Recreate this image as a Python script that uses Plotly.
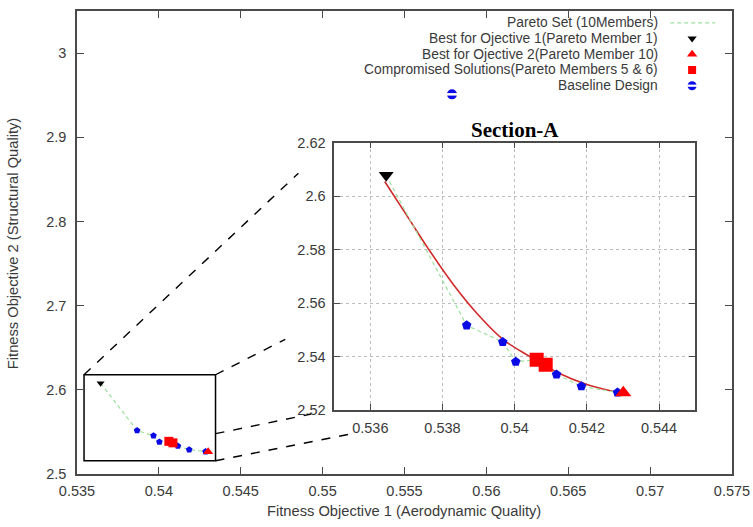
import plotly.graph_objects as go

# ---- Pareto front (10 members, ordered by objective 1) ----
pareto_x = [0.53644, 0.53867, 0.53967, 0.54003, 0.54061, 0.54086, 0.54116, 0.54185, 0.54285, 0.54301]
pareto_y = [2.6078, 2.5517, 2.5455, 2.5381, 2.5388, 2.5370, 2.5333, 2.5289, 2.5266, 2.5265]

best1_idx = [0]          # best for objective 1
best2_idx = [9]          # best for objective 2
compromise_idx = [4, 5]  # compromised solutions
other_idx = [1, 2, 3, 6, 7, 8]

# ---- fitted trade-off curve ----
fit_x = [0.5364, 0.5370, 0.5376, 0.5383, 0.5390, 0.5397, 0.5404, 0.5412, 0.5420, 0.5429]
fit_y = [2.6055, 2.5930, 2.5805, 2.5670, 2.5555, 2.5462, 2.5402, 2.5340, 2.5296, 2.5265]

# ---- baseline design ----
baseline_x = [0.5579]
baseline_y = [2.951]

# ---- axis ticks ----
main_xticks = [0.535, 0.540, 0.545, 0.550, 0.555, 0.560, 0.565, 0.570, 0.575]
main_xlabels = ["0.535", "0.54", "0.545", "0.55", "0.555", "0.56", "0.565", "0.57", "0.575"]
main_yticks = [2.5, 2.6, 2.7, 2.8, 2.9, 3.0]
main_ylabels = ["2.5", "2.6", "2.7", "2.8", "2.9", "3"]
inset_xticks = [0.536, 0.538, 0.540, 0.542, 0.544]
inset_xlabels = ["0.536", "0.538", "0.54", "0.542", "0.544"]
inset_yticks = [2.52, 2.54, 2.56, 2.58, 2.60, 2.62]
inset_ylabels = ["2.52", "2.54", "2.56", "2.58", "2.6", "2.62"]

legend_labels = [
    "Pareto Set (10Members)",
    "Best for Ojective 1(Pareto Member 1)",
    "Best for Ojective 2(Pareto Member 10)",
    "Compromised Solutions(Pareto Members 5 & 6)",
    "Baseline Design",
]

# zoom window drawn on the main axes and its guide lines
zoom_box = dict(x0=0.53543, x1=0.54346, y0=2.5158, y1=2.6179)
guide_lines = [
    (0.53543, 2.6179, 0.54852, 2.8573),
    (0.54346, 2.6179, 0.54772, 2.6600),
    (0.54346, 2.5479, 0.54930, 2.5712),
    (0.54346, 2.5158, 0.55209, 2.5490),
]

FONT = "Liberation Sans, Arial, sans-serif"
TXT = "#3a3a3a"
AX = "#4a4a4a"
GREEN = "#9ee09e"
BLUE = "#0a0ae6"
RED = "#ff0000"
CURVE = "#d02a2a"


def pick(vals, idx):
    return [vals[i] for i in idx]


fig = go.Figure()


def add_front(xa, ya, sizes):
    s_tri, s_pent, s_sq, s_tri2 = sizes
    fig.add_trace(go.Scatter(x=pareto_x, y=pareto_y, mode="lines", xaxis=xa, yaxis=ya,
                             line=dict(color=GREEN, width=1.2, dash="4px,3px"), hoverinfo="skip"))
    fig.add_trace(go.Scatter(x=pick(pareto_x, other_idx), y=pick(pareto_y, other_idx), mode="markers",
                             xaxis=xa, yaxis=ya,
                             marker=dict(symbol="pentagon", size=s_pent, color=BLUE, line=dict(width=0))))
    fig.add_trace(go.Scatter(x=pick(pareto_x, compromise_idx), y=pick(pareto_y, compromise_idx), mode="markers",
                             xaxis=xa, yaxis=ya,
                             marker=dict(symbol="square", size=s_sq, color=RED, line=dict(width=0))))
    fig.add_trace(go.Scatter(x=pick(pareto_x, best2_idx), y=pick(pareto_y, best2_idx), mode="markers",
                             xaxis=xa, yaxis=ya,
                             marker=dict(symbol="triangle-up", size=s_tri2, color=RED, line=dict(width=0))))
    fig.add_trace(go.Scatter(x=pick(pareto_x, best1_idx), y=pick(pareto_y, best1_idx), mode="markers",
                             xaxis=xa, yaxis=ya,
                             marker=dict(symbol="triangle-down", size=s_tri, color="black", line=dict(width=0))))


# main axes
add_front("x", "y", (7, 7, 9, 9))
fig.add_trace(go.Scatter(x=baseline_x, y=baseline_y, mode="markers",
                         marker=dict(symbol="circle", size=10, color=BLUE, line=dict(width=0))))
fig.add_trace(go.Scatter(x=baseline_x, y=baseline_y, mode="markers",
                         marker=dict(symbol="line-ew", size=8, line=dict(width=2.5, color="white"))))

# inset (Section-A)
fig.add_trace(go.Scatter(x=fit_x, y=fit_y, mode="lines", xaxis="x2", yaxis="y2",
                         line=dict(color=CURVE, width=1.6, shape="spline", smoothing=1.0)))
add_front("x2", "y2", (13, 10, 14, 14))

# legend samples on a transparent overlay axis (0..1 over the plot area)
L0, T0 = 77, 3
PW, PH = 657, 471


def px_x(px):
    return (px - L0) / PW


def px_y(py):
    return (T0 + PH - py) / PH


rows = [15, 31, 47, 63, 79]
sym_x = px_x(694)
fig.add_trace(go.Scatter(x=[px_x(672), px_x(717)], y=[px_y(rows[0])] * 2, mode="lines",
                         xaxis="x3", yaxis="y3", line=dict(color=GREEN, width=1.2, dash="4px,3px")))
fig.add_trace(go.Scatter(x=[sym_x], y=[px_y(rows[1])], mode="markers", xaxis="x3", yaxis="y3",
                         marker=dict(symbol="triangle-down", size=8, color="black")))
fig.add_trace(go.Scatter(x=[sym_x], y=[px_y(rows[2])], mode="markers", xaxis="x3", yaxis="y3",
                         marker=dict(symbol="triangle-up", size=9, color=RED)))
fig.add_trace(go.Scatter(x=[sym_x], y=[px_y(rows[3])], mode="markers", xaxis="x3", yaxis="y3",
                         marker=dict(symbol="square", size=8, color=RED)))
fig.add_trace(go.Scatter(x=[sym_x], y=[px_y(rows[4])], mode="markers", xaxis="x3", yaxis="y3",
                         marker=dict(symbol="circle", size=9, color=BLUE)))
fig.add_trace(go.Scatter(x=[sym_x], y=[px_y(rows[4])], mode="markers", xaxis="x3", yaxis="y3",
                         marker=dict(symbol="line-ew", size=7, line=dict(width=2.2, color="white"))))

annotations = []
for lab, r in zip(legend_labels, rows):
    annotations.append(dict(text=lab, xref="paper", yref="paper", x=px_x(662), y=px_y(r),
                            xanchor="right", yanchor="middle", showarrow=False,
                            font=dict(family=FONT, size=13.8, color=TXT)))

annotations += [
    dict(text="<b>Section-A</b>", xref="paper", yref="paper", x=px_x(516), y=px_y(124),
         xanchor="center", yanchor="middle", showarrow=False,
         font=dict(family="Liberation Serif, Times New Roman, serif", size=21, color="black")),
    dict(text="Fitness Objective 1 (Aerodynamic Quality)", xref="paper", yref="paper",
         x=px_x(405), y=px_y(512), xanchor="center", yanchor="middle", showarrow=False,
         height=16, font=dict(family=FONT, size=14.7, color=TXT)),
    dict(text="Fitness Objective 2 (Structural Quality)", xref="paper", yref="paper",
         x=px_x(13), y=px_y(240), xanchor="center", yanchor="middle", showarrow=False,
         textangle=-90, font=dict(family=FONT, size=14.7, color=TXT)),
]

shapes = [dict(type="rect", xref="x", yref="y", line=dict(color="black", width=1.5),
               fillcolor="rgba(0,0,0,0)", layer="below", **zoom_box)]
for (gx0, gy0, gx1, gy1) in guide_lines:
    shapes.append(dict(type="line", xref="x", yref="y", x0=gx0, y0=gy0, x1=gx1, y1=gy1,
                       line=dict(color="black", width=1.4, dash="dash")))

axis_common = dict(showline=True, linecolor=AX, linewidth=1.5, mirror="ticks", ticks="inside",
                   tickcolor=AX, tickwidth=1.2, zeroline=False,
                   tickfont=dict(family=FONT, size=14.5, color=TXT))

inset_dom_x = [px_x(335), px_x(697)]
inset_dom_y = [px_y(409), px_y(137)]

fig.update_layout(
    width=753, height=527,
    margin=dict(l=L0, r=753 - L0 - PW, t=T0, b=527 - T0 - PH),
    paper_bgcolor="white", plot_bgcolor="white",
    showlegend=False,
    xaxis=dict(range=[0.535, 0.575], tickvals=main_xticks, ticktext=main_xlabels, ticklen=7,
               showgrid=False, ticklabelstandoff=3, **axis_common),
    yaxis=dict(range=[2.5, 3.05], tickvals=main_yticks, ticktext=main_ylabels, ticklen=7,
               showgrid=False, ticklabelstandoff=6, **axis_common),
    xaxis2=dict(domain=inset_dom_x, anchor="y2", range=[0.535, 0.545], tickvals=inset_xticks,
                ticktext=inset_xlabels, ticklen=6, showgrid=True, gridcolor="#bdbdbd",
                griddash="dot", gridwidth=1, ticklabelstandoff=4, **axis_common),
    yaxis2=dict(domain=inset_dom_y, anchor="x2", range=[2.52, 2.62], tickvals=inset_yticks,
                ticktext=inset_ylabels, ticklen=6, showgrid=True, gridcolor="#bdbdbd",
                griddash="dot", gridwidth=1, ticklabelstandoff=4, **axis_common),
    xaxis3=dict(overlaying="x", range=[0, 1], visible=False, fixedrange=True),
    yaxis3=dict(overlaying="y", range=[0, 1], visible=False, fixedrange=True),
    annotations=annotations,
    shapes=shapes,
)

fig.write_html("out.html")
